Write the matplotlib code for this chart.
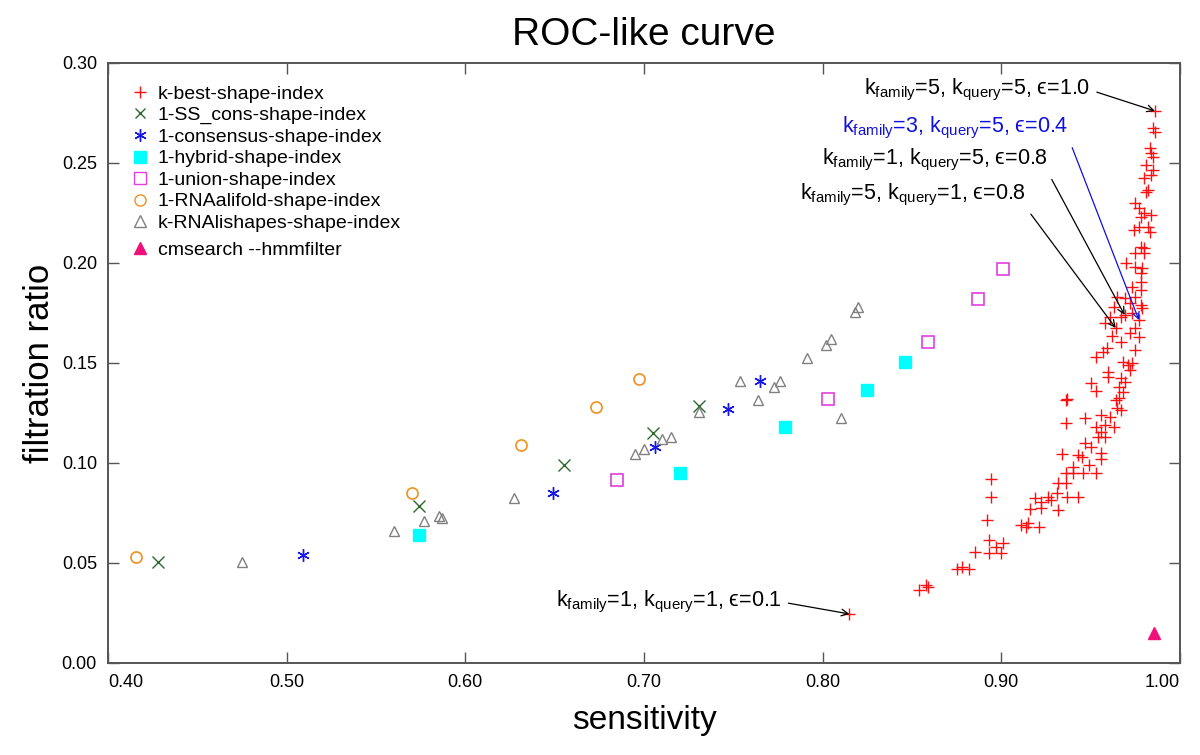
import numpy as np
import matplotlib
matplotlib.use('Agg')
import matplotlib.pyplot as plt
from matplotlib.lines import Line2D

plt.rcParams['font.family'] = ['Liberation Sans', 'DejaVu Sans']
plt.rcParams['mathtext.fontset'] = 'custom'
plt.rcParams['mathtext.rm'] = 'Liberation Sans'
plt.rcParams['mathtext.it'] = 'Liberation Sans:italic'
plt.rcParams['mathtext.fallback'] = 'stix'

# ---------------- dados ----------------
# k-best-shape-index (sensibilidade, razao de filtragem)
kbest_sens = [
    0.986, 0.985, 0.986, 0.983, 0.984, 0.985, 0.981, 0.985, 0.984, 0.980,
    0.981, 0.982, 0.975, 0.977, 0.980, 0.984, 0.978, 0.982, 0.974, 0.977,
    0.983, 0.978, 0.980, 0.975, 0.980, 0.970, 0.975, 0.979, 0.978, 0.978,
    0.973, 0.978, 0.965, 0.969, 0.975, 0.963, 0.972, 0.978, 0.979, 0.961,
    0.967, 0.973, 0.977, 0.969, 0.964,
    0.958, 0.962, 0.967, 0.972, 0.977, 0.975, 0.975, 0.953, 0.957, 0.959,
    0.968, 0.971, 0.973, 0.972, 0.960, 0.960, 0.967, 0.950, 0.953, 0.969,
    0.966, 0.968, 0.964, 0.966, 0.937, 0.936, 0.967, 0.965, 0.956, 0.961,
    0.936, 0.947, 0.953, 0.958, 0.963, 0.956, 0.958, 0.954, 0.947, 0.950,
    0.934, 0.943, 0.945, 0.956, 0.956, 0.940, 0.949, 0.936, 0.940, 0.946,
    0.953, 0.932, 0.936, 0.931, 0.926, 0.928, 0.919, 0.922, 0.937, 0.943,
    0.916, 0.922, 0.932, 0.911, 0.915, 0.921, 0.914, 0.894, 0.894, 0.892,
    0.893, 0.901, 0.897, 0.885, 0.893, 0.900, 0.875, 0.878, 0.882, 0.854,
    0.858, 0.859, 0.815,
]
kbest_ratio = [
    0.276, 0.2675, 0.2655, 0.2575, 0.255, 0.253, 0.249, 0.2465, 0.244, 0.2425,
    0.2355, 0.2365, 0.230, 0.2275, 0.225, 0.224, 0.223, 0.218, 0.2165, 0.218,
    0.2155, 0.208, 0.2075, 0.205, 0.205, 0.200, 0.198, 0.1975, 0.195, 0.1905,
    0.188, 0.1865, 0.183, 0.1825, 0.183, 0.178, 0.180, 0.179, 0.1775, 0.173,
    0.173, 0.175, 0.1715, 0.174, 0.1675,
    0.170, 0.1635, 0.1605, 0.165, 0.163, 0.1565, 0.1675, 0.153, 0.1555, 0.1575,
    0.1505, 0.149, 0.150, 0.1465, 0.1455, 0.143, 0.1425, 0.140, 0.136, 0.1405,
    0.138, 0.1355, 0.1315, 0.1325, 0.132, 0.1315, 0.1265, 0.1275, 0.124, 0.123,
    0.120, 0.1225, 0.118, 0.119, 0.118, 0.1155, 0.113, 0.113, 0.110, 0.108,
    0.1045, 0.104, 0.103, 0.105, 0.102, 0.098, 0.099, 0.095, 0.095, 0.095,
    0.095, 0.090, 0.090, 0.085, 0.083, 0.0815, 0.0825, 0.0805, 0.083, 0.083,
    0.077, 0.0775, 0.0765, 0.069, 0.070, 0.068, 0.068, 0.092, 0.083, 0.0715,
    0.0615, 0.060, 0.058, 0.0555, 0.055, 0.055, 0.047, 0.048, 0.047, 0.0365,
    0.039, 0.038, 0.0245,
]

sscons_sens = [0.428, 0.574, 0.655, 0.705, 0.731]
sscons_ratio = [0.0505, 0.0785, 0.099, 0.115, 0.1285]

consensus_sens = [0.509, 0.649, 0.706, 0.747, 0.765]
consensus_ratio = [0.054, 0.085, 0.108, 0.127, 0.141]

hybrid_sens = [0.574, 0.720, 0.779, 0.825, 0.846]
hybrid_ratio = [0.064, 0.095, 0.118, 0.1365, 0.1505]

union_sens = [0.685, 0.803, 0.859, 0.887, 0.901]
union_ratio = [0.0915, 0.132, 0.1605, 0.182, 0.197]

alifold_sens = [0.4156, 0.570, 0.631, 0.673, 0.697]
alifold_ratio = [0.053, 0.085, 0.109, 0.128, 0.142]

lishapes_sens = [0.475, 0.560, 0.577, 0.5855, 0.587, 0.627, 0.695, 0.700,
                 0.710, 0.715, 0.731, 0.754, 0.764, 0.773, 0.776, 0.791,
                 0.802, 0.8045, 0.810, 0.818, 0.820]
lishapes_ratio = [0.0505, 0.066, 0.071, 0.0735, 0.0725, 0.0825, 0.1045, 0.107,
                  0.112, 0.113, 0.1255, 0.141, 0.1315, 0.138, 0.141, 0.1525,
                  0.159, 0.162, 0.1225, 0.1755, 0.178]

cmsearch_sens = [0.9855]
cmsearch_ratio = [0.015]

# anotacoes: texto, ponto (x, y), posicao do texto (x, y), cor, saida da seta
anotacoes = [
    (r'k$_{\mathrm{family}}$=5, k$_{\mathrm{query}}$=5, ϵ=1.0', (0.986, 0.276), (0.9497, 0.2865), 'black', (1, 0.5)),
    (r'k$_{\mathrm{family}}$=3, k$_{\mathrm{query}}$=5, ϵ=0.4', (0.977, 0.1715), (0.9374, 0.2675), '#1010e0', (1, 0.15)),
    (r'k$_{\mathrm{family}}$=1, k$_{\mathrm{query}}$=5, ϵ=0.8', (0.969, 0.174), (0.9263, 0.2515), 'black', (1, 0.0)),
    (r'k$_{\mathrm{family}}$=5, k$_{\mathrm{query}}$=1, ϵ=0.8', (0.964, 0.1675), (0.914, 0.234), 'black', (1, 0.0)),
    (r'k$_{\mathrm{family}}$=1, k$_{\mathrm{query}}$=1, ϵ=0.1', (0.815, 0.0245), (0.777, 0.0305), 'black', (1, 0.5)),
]

# ---------------- grafico ----------------
fig = plt.figure(figsize=(12, 7.55), dpi=100)
ax = fig.add_axes([0.09, 0.1219, 0.8933, 0.7947])

ax.plot(kbest_sens, kbest_ratio, '+', color='#ff1010', ms=8.5, mew=1.0, ls='none')
ax.plot(sscons_sens, sscons_ratio, 'x', color='#2d6a2d', ms=8, mew=1.0, ls='none')
ax.plot(consensus_sens, consensus_ratio, marker=(6, 2, 0), color='#1515e8', ms=9, mew=1.0, ls='none')
ax.plot(hybrid_sens, hybrid_ratio, 's', color='#00ffff', ms=8, ls='none')
ax.plot(union_sens, union_ratio, 's', mfc='none', mec='#e040e0', ms=8, mew=1.2, ls='none')
ax.plot(alifold_sens, alifold_ratio, 'o', mfc='none', mec='#f0901e', ms=8, mew=1.2, ls='none')
ax.plot(lishapes_sens, lishapes_ratio, '^', mfc='none', mec='#808080', ms=7.5, mew=1.0, ls='none')
ax.plot(cmsearch_sens, cmsearch_ratio, '^', color='#f0107a', ms=9, ls='none')

for texto, ponto, pos, cor, saida in anotacoes:
    ax.annotate(texto, xy=ponto, xytext=pos, ha='right', va='center',
                fontsize=15.5, color=cor,
                arrowprops=dict(arrowstyle='->', color=cor, lw=0.9,
                                shrinkA=3, shrinkB=0, relpos=saida,
                                mutation_scale=12))

ax.set_xlim(0.40, 1.00)
ax.set_ylim(0.00, 0.30)
ax.set_xticks([0.40, 0.50, 0.60, 0.70, 0.80, 0.90, 1.00])
ax.set_xticklabels(['0.40', '0.50', '0.60', '0.70', '0.80', '0.90', '1.00'])
ax.set_yticks([0.00, 0.05, 0.10, 0.15, 0.20, 0.25, 0.30])
ax.set_yticklabels(['0.00', '0.05', '0.10', '0.15', '0.20', '0.25', '0.30'])
rotulos = ax.get_xticklabels()
rotulos[0].set_ha('left')
rotulos[-1].set_ha('right')

ax.tick_params(direction='in', length=8, width=1.0, color='#555555',
               top=True, right=True, labelsize=13, pad=8)
for s in ax.spines.values():
    s.set_color('#555555')
    s.set_linewidth(1.4)

ax.set_title('ROC-like curve', fontsize=28, pad=13)
ax.set_xlabel('sensitivity', fontsize=24, labelpad=10)
ax.set_ylabel('filtration ratio', fontsize=25, labelpad=4)

# legenda
handles = [
    Line2D([], [], marker='+', color='#ff1010', ls='none', ms=8),
    Line2D([], [], marker='x', color='#2d6a2d', ls='none', ms=7),
    Line2D([], [], marker=(6, 2, 0), color='#1515e8', ls='none', ms=9),
    Line2D([], [], marker='s', color='#00ffff', ls='none', ms=8),
    Line2D([], [], marker='s', mfc='none', mec='#e040e0', ls='none', ms=8),
    Line2D([], [], marker='o', mfc='none', mec='#f0901e', ls='none', ms=8),
    Line2D([], [], marker='^', mfc='none', mec='#808080', ls='none', ms=8),
]
nomes = ['k-best-shape-index', '1-SS_cons-shape-index', '1-consensus-shape-index',
         '1-hybrid-shape-index', '1-union-shape-index', '1-RNAalifold-shape-index',
         'k-RNAlishapes-shape-index']
leg1 = ax.legend(handles, nomes, loc='upper left', bbox_to_anchor=(0.021, 0.963),
                 frameon=False, fontsize=14, handlelength=1.0, handletextpad=0.4,
                 labelspacing=0.2, borderaxespad=0, borderpad=0)
ax.add_artist(leg1)
h2 = [Line2D([], [], marker='^', color='#f0107a', ls='none', ms=8)]
ax.legend(h2, ['cmsearch --hmmfilter'], loc='upper left', bbox_to_anchor=(0.021, 0.703),
          frameon=False, fontsize=14, handlelength=1.0, handletextpad=0.4,
          borderaxespad=0, borderpad=0)

fig.savefig('out.png', dpi=100)
